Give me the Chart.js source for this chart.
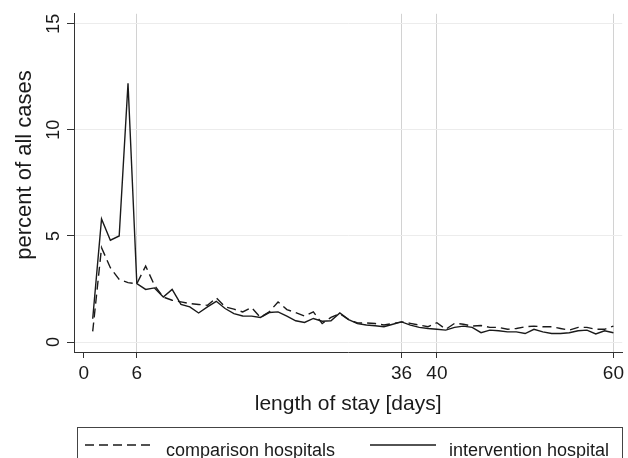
<!DOCTYPE html>
<html>
<head>
<meta charset="utf-8">
<title>Length of stay</title>
<script src="https://cdn.jsdelivr.net/npm/chart.js@4.4.1/dist/chart.umd.min.js"></script>
<style>
    html, body { margin: 0; padding: 0; background: #fff; }
    #chartCanvas { display: block; }
</style>
</head>
<body>
<canvas id="chartCanvas" width="628" height="458"></canvas>
<script>
/**
 * Length of stay distribution – comparison vs intervention hospital
 */

// Days of stay (x values)
const days = [
    1, 2, 3, 4, 5, 6, 7, 8, 9, 10,
    11, 12, 13, 14, 15, 16, 17, 18, 19, 20,
    21, 22, 23, 24, 25, 26, 27, 28, 29, 30,
    31, 32, 33, 34, 35, 36, 37, 38, 39, 40,
    41, 42, 43, 44, 45, 46, 47, 48, 49, 50,
    51, 52, 53, 54, 55, 56, 57, 58, 59, 60,
];

// Percent of all cases, comparison hospitals (dashed)
const comparison = [
    0.50, 4.45, 3.50, 2.95, 2.80, 2.75, 3.58, 2.67, 2.12, 1.97,
    1.89, 1.81, 1.77, 1.73, 2.08, 1.66, 1.55, 1.42, 1.62, 1.16,
    1.42, 1.89, 1.53, 1.39, 1.22, 1.42, 0.87, 1.16, 1.34, 1.06,
    0.90, 0.90, 0.87, 0.80, 0.87, 0.95, 0.88, 0.80, 0.72, 0.91,
    0.60, 0.88, 0.84, 0.75, 0.78, 0.69, 0.69, 0.60, 0.64, 0.72,
    0.75, 0.72, 0.72, 0.64, 0.56, 0.69, 0.69, 0.60, 0.60, 0.75,
];

// Percent of all cases, intervention hospital (solid)
const intervention = [
    1.10, 5.80, 4.80, 5.00, 12.20, 2.75, 2.48, 2.55, 2.12, 2.48,
    1.77, 1.66, 1.37, 1.66, 1.92, 1.58, 1.34, 1.23, 1.22, 1.16,
    1.39, 1.42, 1.22, 1.00, 0.92, 1.11, 0.98, 1.00, 1.37, 1.06,
    0.87, 0.80, 0.77, 0.72, 0.84, 0.95, 0.80, 0.69, 0.64, 0.60,
    0.56, 0.69, 0.75, 0.69, 0.44, 0.56, 0.53, 0.48, 0.48, 0.40,
    0.60, 0.48, 0.40, 0.40, 0.44, 0.53, 0.56, 0.38, 0.53, 0.44,
];

const xTicks = [0, 6, 36, 40, 60];
const yTicks = [0, 5, 10, 15];

const FONT = '"Liberation Sans", Arial, Helvetica, sans-serif';
const INK = '#1a1a1a';

function toPoints(values) {
    return days.map((d, i) => ({ x: d, y: values[i] }));
}

// Stata style boxed legend + rotated y title
const frameText = {
    id: 'frameText',
    afterDraw(chart) {
        const ctx = chart.ctx;
        ctx.save();

        // y axis title
        ctx.fillStyle = INK;
        ctx.font = '22px ' + FONT;
        ctx.textAlign = 'center';
        ctx.textBaseline = 'middle';
        ctx.translate(25, 165);
        ctx.rotate(-Math.PI / 2);
        ctx.fillText('percent of all cases', 0, 0);
        ctx.setTransform(1, 0, 0, 1, 0, 0);

        // legend box
        ctx.strokeStyle = '#444';
        ctx.lineWidth = 1;
        ctx.strokeRect(77.5, 427.5, 545, 60);

        const slots = [
            { x0: 85, x1: 155, tx: 166 },
            { x0: 370, x1: 436, tx: 449 },
        ];
        ctx.font = '18px ' + FONT;
        ctx.textAlign = 'left';
        ctx.textBaseline = 'alphabetic';
        chart.data.datasets.forEach(function (ds, i) {
            const s = slots[i];
            ctx.strokeStyle = ds.borderColor;
            ctx.lineWidth = ds.borderWidth;
            ctx.setLineDash(ds.borderDash || []);
            ctx.beginPath();
            ctx.moveTo(s.x0, 445);
            ctx.lineTo(s.x1, 445);
            ctx.stroke();
            ctx.setLineDash([]);
            ctx.fillText(ds.label, s.tx, 456);
        });
        ctx.restore();
    },
};

function createChart() {
    const ctx = document.getElementById('chartCanvas');

    new Chart(ctx, {
        type: 'line',
        data: {
            datasets: [
                {
                    label: 'comparison hospitals',
                    data: toPoints(comparison),
                    borderColor: INK,
                    borderWidth: 1.4,
                    borderDash: [9, 5],
                },
                {
                    label: 'intervention hospital',
                    data: toPoints(intervention),
                    borderColor: INK,
                    borderWidth: 1.4,
                },
            ],
        },
        options: {
            responsive: false,
            animation: false,
            elements: {
                point: { radius: 0 },
                line: { tension: 0, fill: false },
            },
            layout: {
                padding: { top: 12, right: 1, bottom: 31, left: 0 },
            },
            plugins: {
                legend: { display: false },
                tooltip: { enabled: false },
            },
            scales: {
                x: {
                    type: 'linear',
                    min: -1.12,
                    max: 61,
                    afterBuildTicks: axis => { axis.ticks = xTicks.map(v => ({ value: v })); },
                    afterFit: axis => { axis.height = 75; },
                    ticks: {
                        autoSkip: false,
                        maxRotation: 0,
                        padding: 4,
                        color: INK,
                        font: { family: FONT, size: 19 },
                    },
                    grid: {
                        color: c => (c.tick && c.tick.value === 0 ? 'rgba(0,0,0,0)' : '#d2d2d2'),
                        tickColor: '#333',
                        tickLength: 6,
                    },
                    border: { color: '#333', width: 1 },
                    title: {
                        display: true,
                        text: 'length of stay [days]',
                        color: INK,
                        font: { family: FONT, size: 21 },
                        padding: { top: 0, bottom: 10 },
                    },
                },
                y: {
                    min: -0.47,
                    max: 15.47,
                    afterBuildTicks: axis => { axis.ticks = yTicks.map(v => ({ value: v })); },
                    afterFit: axis => { axis.width = 74; },
                    ticks: {
                        minRotation: 90,
                        maxRotation: 90,
                        crossAlign: 'center',
                        padding: 3,
                        color: INK,
                        font: { family: FONT, size: 18 },
                    },
                    grid: {
                        color: '#ececec',
                        tickColor: '#333',
                        tickLength: 7,
                    },
                    border: { color: '#333', width: 1 },
                },
            },
        },
        plugins: [frameText],
    });
}

createChart();
</script>
</body>
</html>
